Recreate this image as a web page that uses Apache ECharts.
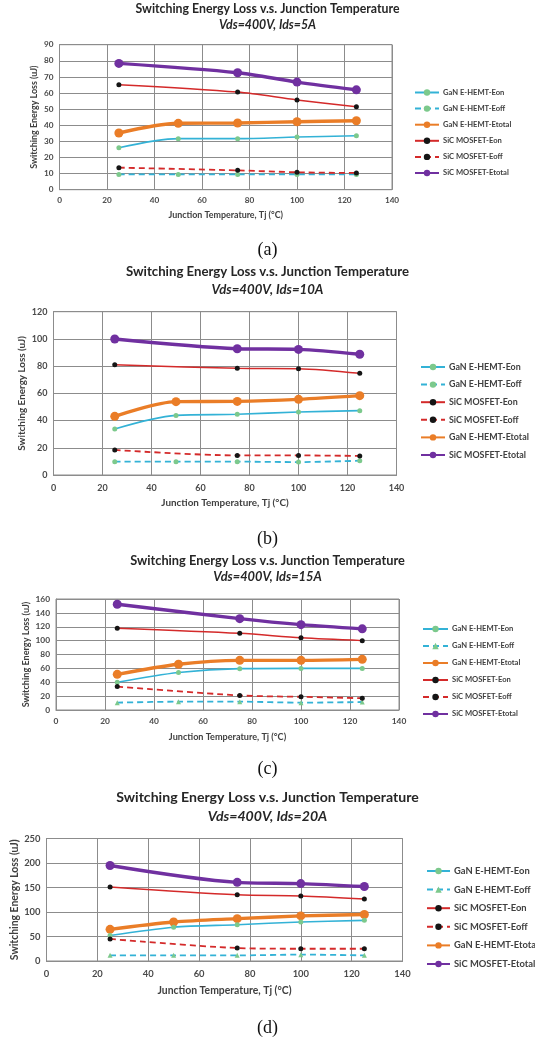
<!DOCTYPE html>
<html>
<head>
<meta charset="utf-8">
<script src="https://cdn.jsdelivr.net/npm/echarts@6/dist/echarts.min.js"></script>
<style>
html,body{margin:0;padding:0;background:#fff;width:535px;height:1037px;overflow:hidden;}
.c{position:absolute;left:0;width:535px;}
</style>
</head>
<body>
<div id="ca" class="c" style="top:0;height:260px"></div>
<div id="cb" class="c" style="top:260px;height:288px"></div>
<div id="cc" class="c" style="top:548px;height:232px"></div>
<div id="cd" class="c" style="top:780px;height:257px"></div>
<script>
// ---- data ----
const tempsGaN = [25, 50, 75, 100, 125];
const tempsSiC = [25, 75, 100, 125];

const titleMain = 'Switching Energy Loss v.s. Junction Temperature';
const subtitles = ['Vds=400V, Ids=5A', 'Vds=400V, Ids=10A', 'Vds=400V, Ids=15A', 'Vds=400V, Ids=20A'];
const captions = ['(a)', '(b)', '(c)', '(d)'];
const yMax = [90, 120, 160, 250];
const yStep = [10, 20, 20, 50];

// (a) Ids=5A
const a_ganEon    = [26, 31.7, 31.7, 32.7, 33.5];
const a_ganEoff   = [9.5, 9.5, 9.5, 9.5, 9.5];
const a_ganEtotal = [35.2, 41.2, 41.4, 42.2, 42.8];
const a_sicEon    = [65.2, 60.6, 55.7, 51.5];
const a_sicEoff   = [13.7, 12, 10.8, 10.4];
const a_sicEtotal = [78.4, 72.6, 66.8, 62];
// (b) Ids=10A
const b_ganEon    = [33.8, 43.8, 44.6, 46.3, 47.3];
const b_ganEoff   = [9.8, 9.8, 9.8, 9.5, 10.5];
const b_ganEtotal = [43.1, 53.9, 54.1, 55.6, 58.3];
const b_sicEon    = [81, 78.4, 78.1, 74.7];
const b_sicEoff   = [18.4, 14.4, 14.4, 14];
const b_sicEtotal = [99.9, 92.8, 92.3, 88.7];
// (c) Ids=15A
const c_ganEon    = [40, 54, 59.6, 60, 60];
const c_ganEoff   = [10.6, 12, 12, 10.6, 11.5];
const c_ganEtotal = [51.4, 66, 71.6, 71.6, 73];
const c_sicEon    = [118, 110.6, 104, 100];
const c_sicEoff   = [33.7, 21, 19, 17];
const c_sicEtotal = [152.4, 131.7, 123, 117];
// (d) Ids=20A
const d_ganEon    = [52, 69, 74, 79.6, 83];
const d_ganEoff   = [11.5, 11.5, 11.5, 13, 11.5];
const d_ganEtotal = [64.6, 79.6, 86.4, 92, 95];
const d_sicEon    = [151, 135, 132.6, 126.5];
const d_sicEoff   = [45, 26.5, 25, 25];
const d_sicEtotal = [195, 160.5, 158, 152];

const legendOrderA = ['GaN E-HEMT-Eon', 'GaN E-HEMT-Eoff', 'GaN E-HEMT-Etotal', 'SiC MOSFET-Eon', 'SiC MOSFET-Eoff', 'SiC MOSFET-Etotal'];
const legendOrderB = ['GaN E-HEMT-Eon', 'GaN E-HEMT-Eoff', 'SiC MOSFET-Eon', 'SiC MOSFET-Eoff', 'GaN E-HEMT-Etotal', 'SiC MOSFET-Etotal'];

// ---- styling / layout ----
const FONT = 'Lato';
const C_CYAN = '#33b2d6', C_GREEN = '#7cc98c', C_RED = '#d42a2a', C_BLACK = '#151515', C_ORANGE = '#ea7d27', C_PURPLE = '#7030a0';

const layouts = [
  {id:'ca', t1:-2, t2:14, tfs:12.3, grid:{left:59.5, right:143, top:44.7, bottom:70.3}, cap:236, lgTop:87.5, lgLeft:414, lgW:24, lgGap:6.1, lfs:7.6, nfs:8.9, lbfs:8.2, ynameGap:21, xnameGap:20.8, xlm:7, order:legendOrderA, eoffSym:'circle'},
  {id:'cb', t1:0.5, t2:18, tfs:13.2, grid:{left:53.5, right:138.5, top:51.7, bottom:73}, cap:265, lgTop:102, lgLeft:420, lgW:24, lgGap:7.6, lfs:8.9, nfs:9.9, lbfs:9, ynameGap:27, xnameGap:23, xlm:9, order:legendOrderB, eoffSym:'circle'},
  {id:'cc', t1:1.5, t2:17.5, tfs:12.8, grid:{left:56, right:136, top:51, bottom:70}, cap:207, lgTop:76, lgLeft:422, lgW:25, lgGap:7, lfs:7.6, nfs:9.1, lbfs:8.4, ynameGap:25.5, xnameGap:22.4, xlm:7.5, order:legendOrderA, eoffSym:'triangle'},
  {id:'cd', t1:5.5, t2:24, tfs:14.1, grid:{left:46.5, right:132.5, top:58.5, bottom:76}, cap:234, lgTop:86, lgLeft:426, lgW:23, lgGap:8.6, lfs:9.4, nfs:10.4, lbfs:9.4, ynameGap:26.7, xnameGap:25, xlm:8, order:legendOrderB, eoffSym:'triangle'}
];

const datasets = [
  [a_ganEon, a_ganEoff, a_ganEtotal, a_sicEon, a_sicEoff, a_sicEtotal],
  [b_ganEon, b_ganEoff, b_ganEtotal, b_sicEon, b_sicEoff, b_sicEtotal],
  [c_ganEon, c_ganEoff, c_ganEtotal, c_sicEon, c_sicEoff, c_sicEtotal],
  [d_ganEon, d_ganEoff, d_ganEtotal, d_sicEon, d_sicEoff, d_sicEtotal]
];

function pairs(xs, ys){ return xs.map((x,i)=>[x, ys[i]]); }

function buildSeries(d, L){
  const [ganEon, ganEoff, ganEtotal, sicEon, sicEoff, sicEtotal] = d;
  const base = {type:'line', smooth:0.3, z:3};
  const defs = {
    'GaN E-HEMT-Eon': Object.assign({}, base, {name:'GaN E-HEMT-Eon', data:pairs(tempsGaN, ganEon),
      lineStyle:{color:C_CYAN, width:1.6}, symbol:'circle', symbolSize:5, itemStyle:{color:C_GREEN, borderWidth:0}, z:4}),
    'GaN E-HEMT-Eoff': Object.assign({}, base, {name:'GaN E-HEMT-Eoff', data:pairs(tempsGaN, ganEoff),
      lineStyle:{color:C_CYAN, width:1.8, type:[6,4]}, symbol:L.eoffSym, symbolSize:5, itemStyle:{color:C_GREEN, borderWidth:0}, z:4}),
    'GaN E-HEMT-Etotal': Object.assign({}, base, {name:'GaN E-HEMT-Etotal', data:pairs(tempsGaN, ganEtotal),
      lineStyle:{color:C_ORANGE, width:3.4}, symbol:'circle', symbolSize:9, itemStyle:{color:C_ORANGE, borderWidth:0}, z:3}),
    'SiC MOSFET-Eon': Object.assign({}, base, {name:'SiC MOSFET-Eon', data:pairs(tempsSiC, sicEon),
      lineStyle:{color:C_RED, width:1.5}, symbol:'circle', symbolSize:5, itemStyle:{color:C_BLACK, borderWidth:0}, z:4}),
    'SiC MOSFET-Eoff': Object.assign({}, base, {name:'SiC MOSFET-Eoff', data:pairs(tempsSiC, sicEoff),
      lineStyle:{color:C_RED, width:1.8, type:[6,4]}, symbol:'circle', symbolSize:5, itemStyle:{color:C_BLACK, borderWidth:0}, z:4}),
    'SiC MOSFET-Etotal': Object.assign({}, base, {name:'SiC MOSFET-Etotal', data:pairs(tempsSiC, sicEtotal),
      lineStyle:{color:C_PURPLE, width:3.4}, symbol:'circle', symbolSize:9, itemStyle:{color:C_PURPLE, borderWidth:0}, z:3})
  };
  return L.order.map(n => defs[n]);
}

layouts.forEach((L, i) => {
  const chart = echarts.init(document.getElementById(L.id), null, {renderer:'canvas'});
  const option = {
    animation:false,
    backgroundColor:'#fff',
    textStyle:{fontFamily:FONT},
    title:[
      {text:titleMain, left:'center', top:L.t1, textStyle:{fontFamily:FONT, fontWeight:'bold', fontSize:L.tfs, color:'#262626'}},
      {text:subtitles[i], left:'center', top:L.t2, textStyle:{fontFamily:FONT, fontWeight:'bold', fontStyle:'italic', fontSize:L.tfs, color:'#262626'}},
      {text:captions[i], left:'center', top:L.cap, textStyle:{fontFamily:'Liberation Serif', fontWeight:'normal', fontSize:18, color:'#111'}}
    ],
    legend:{
      orient:'vertical', left:L.lgLeft, top:L.lgTop, padding:0, itemWidth:L.lgW, itemHeight:8, itemGap:L.lgGap,
      textStyle:{fontFamily:FONT, fontWeight:'bold', fontSize:L.lfs, color:'#404040', lineHeight:10, padding:[0,0,0,-1]},
      data:L.order
    },
    grid:Object.assign({show:true, borderColor:'#8c8c8c', borderWidth:1}, L.grid),
    xAxis:{
      type:'value', min:0, max:140, interval:20,
      name:'Junction Temperature, Tj (°C)', nameLocation:'middle', nameGap:L.xnameGap, nameMoveOverlap:false,
      nameTextStyle:{fontFamily:FONT, fontWeight:'bold', fontSize:L.nfs, color:'#404040'},
      axisLine:{show:true, lineStyle:{color:'#8c8c8c'}},
      axisTick:{show:false},
      axisLabel:{fontFamily:FONT, fontWeight:'bold', fontSize:L.lbfs, color:'#4a4a4a', margin:L.xlm},
      splitLine:{show:true, lineStyle:{color:'#8c8c8c', width:1}}
    },
    yAxis:{
      type:'value', min:0, max:yMax[i], interval:yStep[i],
      name:'Switching Energy Loss (uJ)', nameLocation:'middle', nameGap:L.ynameGap, nameMoveOverlap:false,
      nameTextStyle:{fontFamily:FONT, fontWeight:'bold', fontSize:L.nfs, color:'#404040'},
      axisLine:{show:true, lineStyle:{color:'#8c8c8c'}},
      axisTick:{show:false},
      axisLabel:{fontFamily:FONT, fontWeight:'bold', fontSize:L.lbfs, color:'#4a4a4a', margin:6},
      splitLine:{show:true, lineStyle:{color:'#8c8c8c', width:1}}
    },
    series:buildSeries(datasets[i], L)
  };
  chart.setOption(option);
});
</script>
</body>
</html>
